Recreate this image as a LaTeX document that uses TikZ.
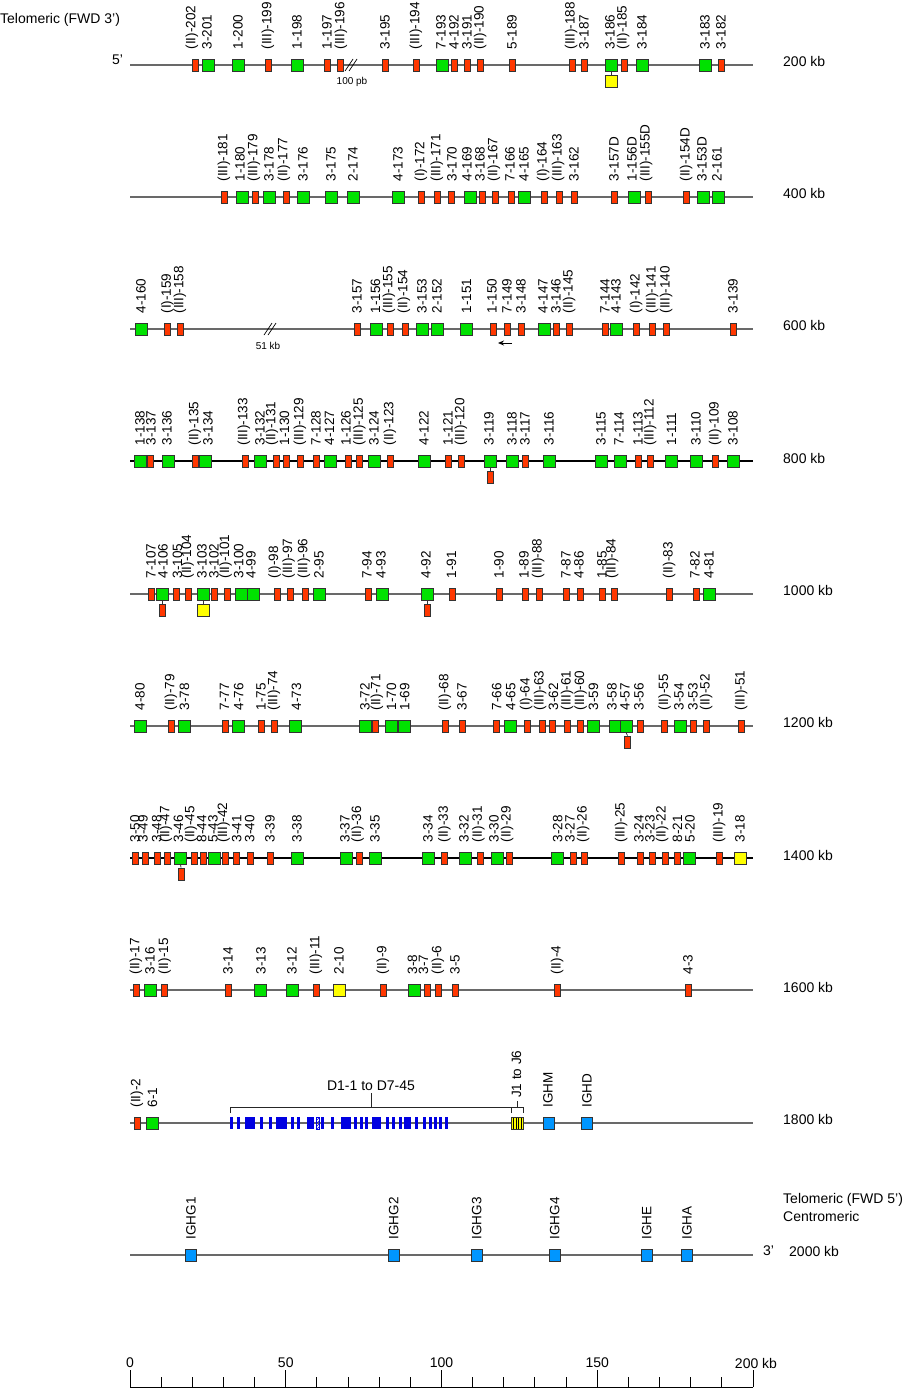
\documentclass[tikz,border=0pt]{standalone}
\usepackage{fontspec}
\setmainfont{Liberation Sans}
\usetikzlibrary{arrows.meta,patterns}
\definecolor{vgreen}{RGB}{0,225,0}
\definecolor{vred}{RGB}{255,55,0}
\definecolor{vyellow}{RGB}{255,255,0}
\definecolor{cblue}{RGB}{0,150,255}
\definecolor{dblue}{RGB}{0,0,225}
\definecolor{trackgray}{RGB}{105,105,105}
\tikzset{
  boxbase/.style={draw=black!80, line width=0.8pt, inner sep=0pt, minimum height=12pt},
  boxg/.style={boxbase, fill=vgreen, minimum width=12pt},
  boxr/.style={boxbase, fill=vred, minimum width=6pt},
  boxy/.style={boxbase, fill=vyellow, minimum width=12pt},
  boxb/.style={boxbase, fill=cblue, minimum width=11pt},
  glabel/.style={rotate=90, anchor=west, inner sep=0pt, font=\fontsize{13.5}{13.5}\selectfont},
  side/.style={anchor=west, inner sep=0pt, font=\fontsize{14}{14}\selectfont},
  scalelab/.style={inner sep=0pt, font=\fontsize{14}{14}\selectfont},
  smalllab/.style={inner sep=0pt, font=\fontsize{10}{10}\selectfont},
  track/.style={line width=1.2pt, draw=trackgray},
  trackdark/.style={line width=1.2pt, draw=black},
  conn/.style={line width=0.8pt, draw=black!80},
  brk/.style={line width=0.7pt, draw=black},
  bracket/.style={line width=1pt, draw=black!85},
}
\newcommand\generow[3]{%
  \foreach \gx/\gt/\gl/\glx [count=\gi] in {#3} {
    \node[box\gt] (g#1-\gi) at (\gx,#2) {};
    \node[glabel] (l#1-\gi) at (\glx,#2-15.5) {\gl};
  }}
\begin{document}
\begin{tikzpicture}[x=1pt,y=-1pt]
\fill[white] (0,0) rectangle (908,1389);
\useasboundingbox (0,0) rectangle (908,1389);

% ---------- side texts ----------
\node[side] (tel3) at (0,20) {Telomeric (FWD 3')};
\node[side] (five) at (112,60) {5'};
\foreach \r/\yy/\txt in {1/61/200 kb,2/193/400 kb,3/325/600 kb,4/458/800 kb,5/590/1000 kb,6/722/1200 kb,7/855/1400 kb,8/987/1600 kb,9/1119/1800 kb}
  \node[side] (kb\r) at (783,\yy) {\txt};
\node[side] (kb10) at (789,1251) {2000 kb};
\node[side] (three) at (763,1251) {3'};
\node[side] (tel5) at (783,1200) {Telomeric (FWD 5')};
\node[side] (centro) at (783,1216) {Centromeric};

% ---------- tracks ----------
\foreach \r/\yy/\st in {1/65/track,2/197/track,3/329/track,4/461/trackdark,5/594/track,6/726/track,7/858/trackdark,8/990/track,9/1123/track,10/1255/track}{
  \coordinate (s\r) at (130,\yy);
  \coordinate (e\r) at (753,\yy);
  \draw[\st] (s\r) -- (e\r);
}

% break marks
\draw[brk] (345,71) -- (353,59);
\draw[brk] (349,71) -- (357,59);
\node[smalllab] (pb) at (352,82) {100 pb};
\draw[brk] (264,335) -- (272,323);
\draw[brk] (268,335) -- (276,323);
\node[smalllab] (kb51) at (268,346) {51 kb};

% arrow
\coordinate (arrS) at (512,343);
\coordinate (arrE) at (498,343);
\draw[line width=1pt,-{Stealth[length=6pt,width=5pt]}] (arrS) -- (arrE);

% ---------- row 1 ----------
\generow{1}{65}{195/r/{(II)-202}/192, 208/g/{3-201}/207, 238/g/{1-200}/238, 268/r/{(III)-199}/268, 297/g/{1-198}/297, 327/r/{1-197}/327, 340/r/{(III)-196}/341, 385/r/{3-195}/385, 416/r/{(III)-194}/416, 442/g/{7-193}/441, 454/r/{4-192}/454, 467/r/{3-191}/467, 480/r/{(II)-190}/480, 512/r/{5-189}/512, 572/r/{(III)-188}/571, 584/r/{3-187}/584, 611/g/{3-186}/610, 624/r/{(II)-185}/623, 642/g/{3-184}/642, 705/g/{3-183}/705, 721/r/{3-182}/721}
\node[boxy] (p1) at (611,81) {};
\draw[conn] (g1-17.south) -- (p1.north);

% ---------- row 2 ----------
\generow{2}{197}{224/r/{(III)-181}/224, 242/g/{1-180}/240, 255/r/{(III)-179}/254, 269/g/{3-178}/269, 286/r/{(II)-177}/284, 303/g/{3-176}/303, 331/g/{3-175}/331, 353/g/{2-174}/353, 398/g/{4-173}/398, 421/r/{(I)-172}/421, 437/r/{(III)-171}/437, 451/r/{3-170}/452, 470/g/{4-169}/467, 482/r/{3-168}/480, 495/r/{(II)-167}/494, 511/r/{7-166}/510, 524/g/{4-165}/524, 544/r/{(I)-164}/543, 559/r/{(III)-163}/558, 574/r/{3-162}/574, 614/r/{3-157D}/614, 634/g/{1-156D}/632, 648/r/{(III)-155D}/646, 686/r/{(II)-154D}/686, 703/g/{3-153D}/702, 718/g/{2-161}/717}

% ---------- row 3 ----------
\generow{3}{329}{141/g/{4-160}/141, 167.5/r/{(I)-159}/167.5, 180/r/{(III)-158}/180, 357/r/{3-157}/357, 376.5/g/{1-156}/375.5, 390/r/{(III)-155}/389, 405/r/{(II)-154}/404, 422/g/{3-153}/422, 437/g/{2-152}/437, 466.5/g/{1-151}/466.5, 493/r/{1-150}/492, 507/r/{7-149}/507, 521/r/{3-148}/521, 544/g/{4-147}/543, 556/r/{3-146}/556, 569/r/{(II)-145}/569, 605/r/{7-144}/605, 616/g/{4-143}/616, 636/r/{(I)-142}/636, 652/r/{(III)-141}/652, 666/r/{(III)-140}/666, 733/r/{3-139}/733}

% ---------- row 4 ----------
\generow{4}{461}{140/g/{1-138}/140, 150.6/r/{3-137}/151, 168/g/{3-136}/167, 195/r/{(II)-135}/195, 205.5/g/{3-134}/208, 245/r/{(III)-133}/244, 260/g/{3-132}/260, 276/r/{(II)-131}/272, 286.6/r/{1-130}/284.5, 300/r/{(III)-129}/300, 316/r/{7-128}/316, 330/g/{4-127}/329.5, 348/r/{1-126}/346, 359.5/r/{(III)-125}/359.5, 374/g/{3-124}/374, 390.6/r/{(II)-123}/390, 424/g/{4-122}/424, 448/r/{1-121}/448, 461/r/{(III)-120}/461, 490/g/{3-119}/489, 512.6/g/{3-118}/512, 525.7/r/{3-117}/525, 549/g/{3-116}/549, 601/g/{3-115}/601, 620/g/{7-114}/619, 638/r/{1-113}/638, 650/r/{(III)-112}/650, 671.5/g/{1-111}/671.5, 696.5/g/{3-110}/696, 715/r/{(II)-109}/715, 733/g/{3-108}/733}
\node[boxr] (p4) at (490,477) {};
\draw[conn] (g4-20.south) -- (p4.north);

% ---------- row 5 ----------
\generow{5}{594}{151/r/{7-107}/151, 162.4/g/{4-106}/163, 176.7/r/{3-105}/177.5, 188/r/{(II)-104}/187.7, 203/g/{3-103}/202, 214.6/r/{3-102}/214, 227/r/{(II)-101}/225.7, 241/g/{3-100}/238.7, 253/g/{4-99}/251, 277/r/{(I)-98}/274.6, 290.5/r/{(III)-97}/288.6, 305/r/{(III)-96}/304, 319.5/g/{2-95}/319, 368/r/{7-94}/367, 382/g/{4-93}/381, 427/g/{4-92}/426, 452/r/{1-91}/451.5, 499/r/{1-90}/499, 525.5/r/{1-89}/524, 539/r/{(III)-88}/538, 566/r/{7-87}/566, 580.6/r/{4-86}/579, 602/r/{1-85}/602, 614/r/{(III)-84}/612, 669/r/{(II)-83}/669, 696/r/{7-82}/695, 709/g/{4-81}/709}
\node[boxr] (p5a) at (162.4,610) {};
\draw[conn] (g5-2.south) -- (p5a.north);
\node[boxy] (p5b) at (203,610) {};
\draw[conn] (g5-5.south) -- (p5b.north);
\node[boxr] (p5c) at (427,610) {};
\draw[conn] (g5-16.south) -- (p5c.north);

% ---------- row 6 ----------
\generow{6}{726}{140/g/{4-80}/140, 171/r/{(II)-79}/171, 184.4/g/{3-78}/184.4, 225/r/{7-77}/224.4, 238.7/g/{4-76}/238.7, 261/r/{1-75}/261, 274/r/{(III)-74}/274, 295.7/g/{4-73}/296.5, 365/g/{3-72}/365, 375/r/{(II)-71}/377, 391.5/g/{1-70}/391.5, 404.6/g/{1-69}/404.6, 445/r/{(II)-68}/445, 462/r/{3-67}/462, 496.7/r/{7-66}/496.7, 510.6/g/{4-65}/510.6, 527/r/{(I)-64}/526, 542/r/{(III)-63}/540, 552.6/r/{3-62}/553.4, 567/r/{(III)-61}/567, 580/r/{(III)-60}/580.5, 593/g/{3-59}/593.5, 615/g/{3-58}/612, 626/g/{4-57}/625, 640/r/{3-56}/639, 664.7/r/{(II)-55}/664.7, 680/g/{3-54}/679, 693/r/{3-53}/693, 706/r/{(II)-52}/706, 741/r/{(III)-51}/741}
\node[boxr] (p6) at (627.5,742) {};
\draw[conn] (g6-24.south) -- (p6.north);

% ---------- row 7 ----------
\generow{7}{858}{135/r/{3-50}/135, 145/r/{3-49}/143, 157.5/r/{3-48}/156.7, 167/r/{(II)-47}/166, 180.5/g/{3-46}/178.5, 194/r/{(II)-45}/190.8, 203.5/r/{8-44}/201.8, 214/g/{5-43}/213, 225/r/{(III)-42}/223.6, 236/r/{3-41}/236.7, 250/r/{3-40}/249.8, 270.7/r/{3-39}/270, 297/g/{3-38}/297, 346.6/g/{3-37}/345, 359/r/{(II)-36}/357.6, 375.7/g/{3-35}/375, 428/g/{3-34}/428, 444.5/r/{(II)-33}/444.5, 465/g/{3-32}/464, 480/r/{(II)-31}/478.5, 497/g/{3-30}/494, 509/r/{(II)-29}/507, 557.7/g/{3-28}/557.7, 573/r/{3-27}/570, 584/r/{(II)-26}/583, 621/r/{(III)-25}/621, 640/r/{3-24}/639, 652/r/{3-23}/650, 665/r/{(II)-22}/662, 677.4/r/{8-21}/677.4, 689.7/g/{5-20}/690, 719/r/{(III)-19}/719, 740/y/{3-18}/740}
\node[boxr] (p7) at (181,874) {};
\draw[conn] (g7-5.south) -- (p7.north);

% ---------- row 8 ----------
\generow{8}{990}{136/r/{(II)-17}/136, 150/g/{3-16}/150, 164.6/r/{(II)-15}/164.6, 228.4/r/{3-14}/228, 260.7/g/{3-13}/261, 292/g/{3-12}/292, 316/r/{(III)-11}/316, 339/y/{2-10}/339, 383.4/r/{(II)-9}/383, 414/g/{3-8}/412.5, 427/r/{3-7}/423.5, 438/r/{(II)-6}/437.8, 455/r/{3-5}/455, 557/r/{(II)-4}/557, 688/r/{4-3}/688}

% ---------- row 9 ----------
\generow{9}{1123}{137/r/{(II)-2}/137, 152.5/g/{6-1}/152.5, 549/b/{IGHM}/548, 587/b/{IGHD}/587}
\foreach \a/\b in {230/233, 237/240, 244.5/254.7, 259.5/262.5, 269/272, 276.4/286.6, 290.5/293.5, 297/300, 307/314, 320.5/323.5, 331/334, 340.5/350.7, 353.5/356.5, 359.5/362.5, 365/368, 372/381.4, 386/389, 391.5/394.5, 398.5/401.5, 403.5/410.8, 414.5/417.5, 422.5/425.5, 428.5/431.5, 433.5/436.5, 439/442, 445/448}
  \fill[dblue] (\a,1117) rectangle (\b,1129);
\draw[pattern=north east lines, pattern color=dblue, draw=dblue, line width=0.5pt] (316,1117) rectangle (319.5,1129);
\node[boxy] (jblk) at (517,1123) {};
\foreach \sx in {513.5,516,518.5,521}
  \draw[line width=0.8pt] (\sx,1117.5) -- (\sx,1128.5);
% D bracket
\coordinate (dL) at (230,1113);
\coordinate (dLt) at (230,1107);
\coordinate (dR) at (511,1113);
\coordinate (dRt) at (511,1107);
\coordinate (dM) at (371,1107);
\coordinate (dMt) at (371,1093);
\draw[bracket] (dL) -- (dLt) -- (dRt) -- (dR);
\draw[bracket] (dM) -- (dMt);
\node[scalelab, anchor=south] (dlab) at (371,1091) {D1-1 to D7-45};
% J bracket
\coordinate (jL) at (511,1113);
\coordinate (jLt) at (511,1107);
\coordinate (jR) at (523,1113);
\coordinate (jRt) at (523,1107);
\coordinate (jM) at (517,1107);
\coordinate (jMt) at (517,1101);
\draw[bracket] (jL) -- (jLt) -- (jRt) -- (jR);
\draw[bracket] (jM) -- (jMt);
\node[glabel] (jlab) at (516.5,1098) {J1 to J6};

% ---------- row 10 ----------
\generow{10}{1255}{191/b/{IGHG1}/191, 393.7/b/{IGHG2}/393.7, 476.7/b/{IGHG3}/476.7, 554.7/b/{IGHG4}/554.7, 646.7/b/{IGHE}/646.7, 687/b/{IGHA}/687}

% ---------- scale bar ----------
\coordinate (sb0) at (130,1387);
\coordinate (sb1) at (753,1387);
\draw[line width=1pt] (sb0) -- (sb1);
\foreach \k in {0,...,20}{
  \pgfmathsetmacro\tx{130+\k*31.15}
  \pgfmathtruncatemacro\mk{mod(\k,5)}
  \ifnum\mk=0
    \draw[line width=1pt] (\tx,1387) -- (\tx,1370);
  \else
    \draw[line width=1pt] (\tx,1387) -- (\tx,1377);
  \fi
}
\node[scalelab] (n0) at (130,1363) {0};
\node[scalelab] (n50) at (285.75,1363) {50};
\node[scalelab] (n100) at (441.5,1363) {100};
\node[scalelab] (n150) at (597.25,1363) {150};
\node[scalelab] (n200) at (756,1363) {200 kb};
\end{tikzpicture}
\end{document}
